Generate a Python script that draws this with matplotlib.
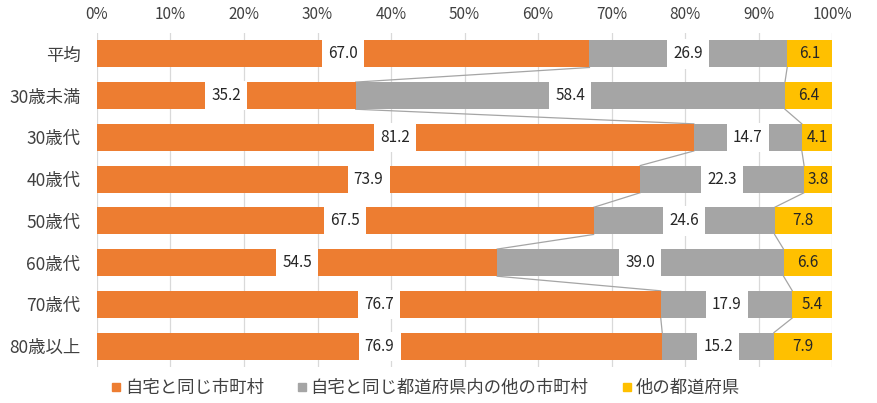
import matplotlib.pyplot as plt
from matplotlib.lines import Line2D
import numpy as np

plt.rcParams['font.family'] = ['Noto Sans CJK JP', 'DejaVu Sans']

categories = ['平均', '30歳未満', '30歳代', '40歳代', '50歳代', '60歳代', '70歳代', '80歳以上']
same_city = [67.0, 35.2, 81.2, 73.9, 67.5, 54.5, 76.7, 76.9]
same_pref = [26.9, 58.4, 14.7, 22.3, 24.6, 39.0, 17.9, 15.2]
other_pref = [6.1, 6.4, 4.1, 3.8, 7.8, 6.6, 5.4, 7.9]
series_names = ['自宅と同じ市町村', '自宅と同じ都道府県内の他の市町村', '他の都道府県']
colors = ['#ED7D31', '#A5A5A5', '#FFC000']
tick_labels = ['0%', '10%', '20%', '30%', '40%', '50%', '60%', '70%', '80%', '90%', '100%']

data = np.array([same_city, same_pref, other_pref])
# 100% stacked: scale each row to its total
shares = data / data.sum(axis=0) * 100

fig = plt.figure(figsize=(8.77, 4.03), dpi=100)
ax = fig.add_axes([0.1106, 0.0893, 0.8381, 0.8287])

y = np.arange(len(categories))
h = 0.65
left = np.zeros(len(categories))
for k in range(3):
    ax.barh(y, shares[k], left=left, height=h, color=colors[k], zorder=2)
    for i in range(len(categories)):
        cx = left[i] + shares[k][i] / 2
        if k < 2:
            ax.text(cx, y[i], f'{data[k][i]:.1f}', ha='center', va='center', fontsize=11,
                    color='#262626', zorder=4,
                    bbox=dict(boxstyle='square,pad=0.4', fc='white', ec='none'))
        else:
            ax.text(cx, y[i], f'{data[k][i]:.1f}', ha='center', va='center', fontsize=11,
                    color='#262626', zorder=4)
    left = left + shares[k]

# series lines between bars
cum1 = shares[0]
cum2 = shares[0] + shares[1]
for c in (cum1, cum2):
    for i in range(len(categories) - 1):
        ax.plot([c[i], c[i + 1]], [y[i] + h / 2, y[i + 1] - h / 2], color='#A5A5A5', lw=0.9, zorder=1)

ax.set_xlim(0, 100)
ax.set_ylim(len(categories) - 0.5, -0.5)
ax.set_xticks(np.arange(0, 101, 10))
ax.set_xticklabels(tick_labels)
ax.xaxis.tick_top()
ax.set_yticks(y)
ax.set_yticklabels(categories)
ax.tick_params(axis='both', length=0, colors='#404040')
ax.tick_params(axis='x', pad=7, labelsize=11)
ax.tick_params(axis='y', pad=12, labelsize=12.5)
ax.xaxis.grid(True, color='#D9D9D9', lw=0.9, zorder=0)
ax.set_axisbelow(True)
for s in ax.spines.values():
    s.set_visible(False)

handles = [Line2D([], [], marker='s', linestyle='none', markersize=6, color=c) for c in colors]
fig.legend(handles, series_names, loc='center', bbox_to_anchor=(0.485, 0.037), ncol=3,
           frameon=False, fontsize=12.5, handletextpad=0.2, handlelength=0.6,
           columnspacing=1.9, labelcolor='#404040')

fig.savefig('out.png', dpi=100)
